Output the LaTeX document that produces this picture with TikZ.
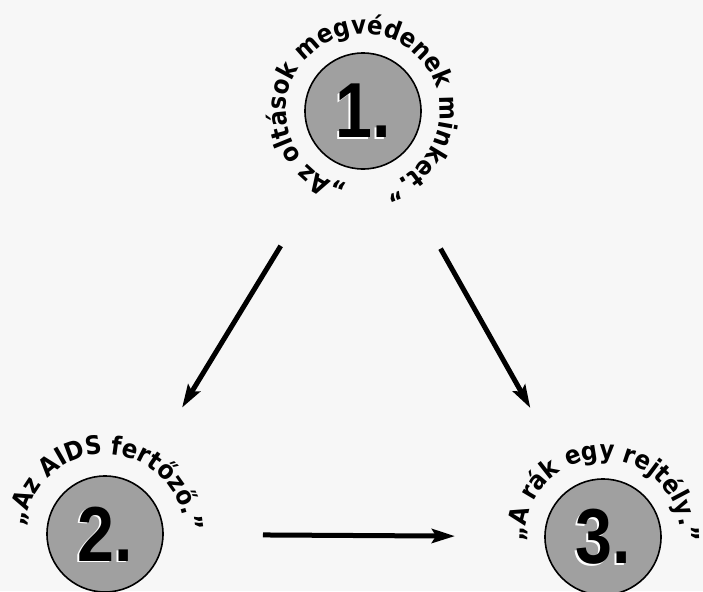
\documentclass[tikz,border=0pt]{standalone}
\usepackage{fontspec}
\newfontfamily\ringfont{DejaVu Sans Condensed}
\newfontfamily\numfont{Liberation Sans}
\usetikzlibrary{arrows.meta,decorations.text}
\definecolor{paper}{HTML}{F7F7F7}
\definecolor{discgray}{HTML}{A0A0A0}

\begin{document}
\begin{tikzpicture}
  [x=.5pt,y=.5pt,
   disc/.style={circle,draw,line width=.8pt,fill=discgray,minimum size=58pt,inner sep=0pt},
   num/.style={font=\numfont\bfseries\fontsize{39}{39}\selectfont,inner sep=0pt},
   arr/.style={-{Stealth[length=11.5pt,width=7pt,inset=2pt]},line width=2.5pt,shorten <=79pt,shorten >=74pt},
   ring/.style={decorate,decoration={text along path,text align=center,
     text={|\ringfont\bfseries\fontsize{12.8}{15}\selectfont|#1}}}]
  \useasboundingbox (0,0) rectangle (703,591);
  \fill[paper] (0,0) rectangle (703,591);

  \foreach \n/\x/\y in {1/363/480,2/105/57,3/603/54}{
    \node[disc] (n\n) at (\x,\y) {};
    \node[num,text=white,xshift=-.8pt,yshift=-.8pt] at (n\n) {\scalebox{.85}[1]{\n.}};
    \node[num] at (n\n) {\scalebox{.85}[1]{\n.}};
  }

  \path[ring={„Az oltások megvédenek minket.”}]
    (n1.center) ++(271.5:77) arc[start angle=271.5,end angle=-88.5,radius=77];
  \path[ring={„Az AIDS fertőző.”}]
    (n2.center) ++(200:80) arc[start angle=200,end angle=-23,radius=80];
  \path[ring={„A rák egy rejtély.”}]
    (n3.center) ++(200:78) arc[start angle=200,end angle=-20,radius=78];

  \foreach \from/\to in {n1/n2,n1/n3,n2/n3}
    \draw[arr] (\from.center) -- (\to.center);
\end{tikzpicture}
\end{document}
